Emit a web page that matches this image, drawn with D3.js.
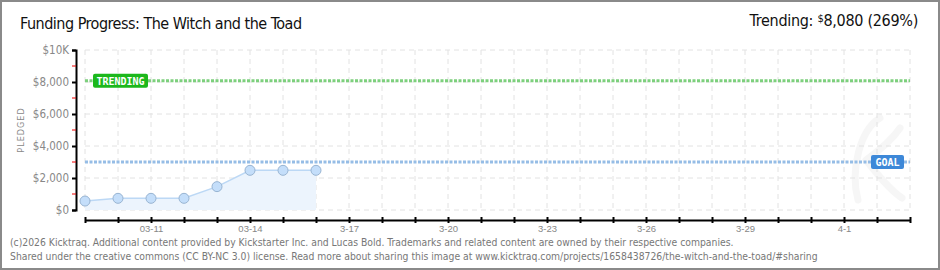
<!DOCTYPE html>
<html>
<head>
<meta charset="utf-8">
<script src="https://cdn.jsdelivr.net/npm/d3@7"></script>
<style>
  body { margin: 0; background: #fff; }
  svg { display: block; font-family: "DejaVu Sans Condensed", "DejaVu Sans", sans-serif; }
</style>
</head>
<body>
<svg id="chart" width="940" height="270"></svg>
<script>
// data
var dates = ["2026-03-09","2026-03-10","2026-03-11","2026-03-12","2026-03-13","2026-03-14","2026-03-15","2026-03-16"];
var pledged = [560, 730, 730, 730, 1460, 2480, 2480, 2480];
var goal = 3000;
var trending = 8080;
var yTicks = [0, 2000, 4000, 6000, 8000, 10000];
var yTickLabels = ["$0", "$2,000", "$4,000", "$6,000", "$8,000", "$10K"];
var xLabelDates = ["2026-03-11","2026-03-14","2026-03-17","2026-03-20","2026-03-23","2026-03-26","2026-03-29","2026-04-01"];
var xLabels = ["03-11","03-14","3-17","3-20","3-23","3-26","3-29","4-1"];
var startDay = "2026-03-09", endDay = "2026-04-03";

var parse = d3.utcParse("%Y-%m-%d");
var svg = d3.select("#chart");

var x = d3.scaleUtc().domain([parse(startDay), parse(endDay)]).range([85, 910]);
var y = d3.scaleLinear().domain([0, 10000]).range([210, 50]);

// frame
svg.append("rect").attr("x", 1).attr("y", 1).attr("width", 938).attr("height", 268)
  .attr("fill", "#fff").attr("stroke", "#8a8a8a").attr("stroke-width", 2);

// title
svg.append("text").attr("x", 20).attr("y", 29)
  .attr("font-size", 16).attr("fill", "#111").attr("letter-spacing", -0.5)
  .text("Funding Progress: The Witch and the Toad");

var tr = svg.append("text").attr("x", 918).attr("y", 26).attr("text-anchor", "end")
  .attr("font-size", 16).attr("fill", "#111").attr("letter-spacing", -0.3);
tr.append("tspan").text("Trending:  ");
tr.append("tspan").attr("font-size", 11).attr("dy", -4).text("$");
tr.append("tspan").attr("dy", 4).text(d3.format(",")(trending) + " (" + Math.round(trending / goal * 100) + "%)");

// faint watermark stroke (drawn as a path, not text)
svg.append("path")
  .attr("d", "M858,200 C850,170 860,130 880,118 M866,160 C880,150 892,140 900,128 M866,160 C878,175 890,190 902,198")
  .attr("fill", "none").attr("stroke", "#f6f6f6").attr("stroke-width", 7).attr("stroke-linecap", "round");

// grid
var allDays = d3.utcDay.range(parse(startDay), d3.utcDay.offset(parse(endDay), 1));
svg.append("g").selectAll("line").data(allDays).enter().append("line")
  .attr("x1", function(d){ return x(d); }).attr("x2", function(d){ return x(d); })
  .attr("y1", 50).attr("y2", 210)
  .attr("stroke", "#e2e2e2").attr("stroke-dasharray", "5,4");
svg.append("g").selectAll("line").data(yTicks).enter().append("line")
  .attr("x1", 85).attr("x2", 910)
  .attr("y1", function(d){ return y(d); }).attr("y2", function(d){ return y(d); })
  .attr("stroke", "#e2e2e2").attr("stroke-dasharray", "5,4");

// area + line
var pts = dates.map(function(d, i){ return { date: parse(d), v: pledged[i] }; });
svg.append("path").datum(pts)
  .attr("d", d3.area().x(function(d){ return x(d.date); }).y0(y(0)).y1(function(d){ return y(d.v); }))
  .attr("fill", "#ecf4fd");
svg.append("path").datum(pts)
  .attr("d", d3.line().x(function(d){ return x(d.date); }).y(function(d){ return y(d.v); }))
  .attr("fill", "none").attr("stroke", "#bcd8f5").attr("stroke-width", 1.5);

// goal + trending lines
function refLine(val, color) {
  svg.append("line").attr("x1", 85).attr("x2", 910)
    .attr("y1", y(val)).attr("y2", y(val))
    .attr("stroke", color).attr("stroke-width", 3).attr("stroke-dasharray", "3,1.5");
}
refLine(goal, "#96bde6");
refLine(trending, "#7dd07d");

svg.append("g").selectAll("circle").data(pts).enter().append("circle")
  .attr("cx", function(d){ return x(d.date); }).attr("cy", function(d){ return y(d.v); })
  .attr("r", 5).attr("fill", "#c4defa").attr("stroke", "#98b4d2").attr("stroke-width", 1);

// labels on the ref lines
function badge(bx, val, w, color, label) {
  svg.append("rect").attr("x", bx).attr("y", y(val) - 7).attr("width", w).attr("height", 14)
    .attr("rx", 2).attr("fill", color);
  svg.append("text").attr("x", bx + w / 2).attr("y", y(val) + 4).attr("text-anchor", "middle")
    .attr("font-family", "DejaVu Sans Mono, monospace").attr("font-size", 10).attr("font-weight", "bold")
    .attr("fill", "#fff").text(label);
}
badge(93, trending, 55, "#1cb81c", "TRENDING");
badge(871, goal, 33, "#3d88d8", "GOAL");

// y axis
var yAxis = svg.append("g").attr("transform", "translate(76,0)")
  .call(d3.axisLeft(y).tickValues(yTicks).tickSize(4).tickFormat(function(d, i){ return yTickLabels[i]; }));
yAxis.select(".domain").attr("stroke", "#000").attr("stroke-width", 2);
yAxis.selectAll("text").attr("fill", "#888").attr("font-size", 11.5).attr("font-family", "DejaVu Sans Condensed");
yAxis.selectAll("line").attr("stroke-width", 2);
svg.append("g").selectAll("line").data([1000, 3000, 5000, 7000, 9000]).enter().append("line")
  .attr("x1", 72).attr("x2", 76)
  .attr("y1", function(d){ return y(d); }).attr("y2", function(d){ return y(d); })
  .attr("stroke", "#e00").attr("stroke-width", 1);

svg.append("text").attr("transform", "translate(24,130) rotate(-90)")
  .attr("text-anchor", "middle").attr("font-size", 9).attr("letter-spacing", 1)
  .attr("fill", "#888").text("PLEDGED");

// x axis
var xAxis = svg.append("g").attr("transform", "translate(0,220)")
  .call(d3.axisBottom(x).tickValues(allDays).tickSizeInner(3).tickSizeOuter(0)
    .tickFormat(function(d){
      var i = xLabelDates.indexOf(d3.utcFormat("%Y-%m-%d")(d));
      return i < 0 ? "" : xLabels[i];
    }));
xAxis.select(".domain").attr("stroke", "#000").attr("stroke-width", 2);
xAxis.selectAll(".tick line").attr("y1", -3).attr("y2", 3).attr("stroke-width", 2);
xAxis.selectAll("text").attr("fill", "#888").attr("font-size", 9.5).attr("y", 5).attr("dy", "0.71em");

// footer
var foot = ["(c)2026 Kicktraq. Additional content provided by Kickstarter Inc. and Lucas Bold. Trademarks and related content are owned by their respective companies.",
  "Shared under the creative commons (CC BY-NC 3.0) license. Read more about sharing this image at www.kicktraq.com/projects/1658438726/the-witch-and-the-toad/#sharing"];
svg.append("g").selectAll("text").data(foot).enter().append("text")
  .attr("x", 10).attr("y", function(d, i){ return 246 + i * 14; })
  .attr("font-size", 10.3).attr("fill", "#777")
  .text(function(d){ return d; });
</script>
</body>
</html>
